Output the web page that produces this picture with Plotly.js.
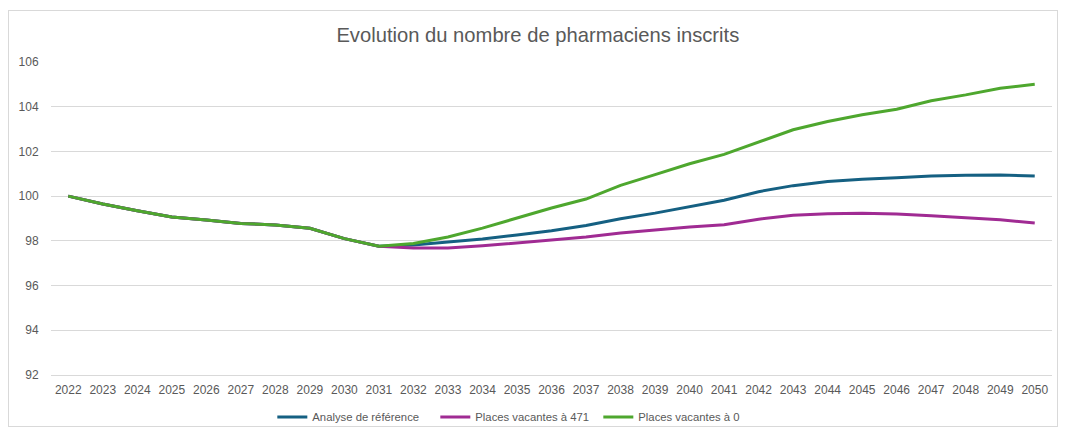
<!DOCTYPE html>
<html>
<head>
<meta charset="utf-8">
<script src="https://cdn.plot.ly/plotly-3.0.1.min.js"></script>
<style>
  html, body { margin: 0; padding: 0; background: #fff; }
  #wrap { position: relative; width: 1065px; height: 433px; }
  #chart { position: absolute; left: 0; top: 0; width: 1065px; height: 433px; }
  #frame { position: absolute; left: 8px; top: 10px; width: 1048px; height: 415px; border: 1px solid #d9d9d9; pointer-events: none; }
</style>
</head>
<body>
<div id="wrap"><div id="chart"></div><div id="frame"></div></div>
<script>
const years = ["2022","2023","2024","2025","2026","2027","2028","2029","2030","2031","2032","2033","2034","2035","2036","2037","2038","2039","2040","2041","2042","2043","2044","2045","2046","2047","2048","2049","2050"];

const reference = [100, 99.65, 99.35, 99.07, 98.93, 98.78, 98.71, 98.56, 98.1, 97.76,
  97.82, 97.95, 98.08, 98.26, 98.45, 98.69, 98.99, 99.24, 99.54, 99.82,
  100.2, 100.47, 100.66, 100.76, 100.82, 100.9, 100.93, 100.95, 100.9];

const vacant471 = [100, 99.65, 99.35, 99.07, 98.93, 98.78, 98.71, 98.56, 98.1, 97.76,
  97.68, 97.68, 97.78, 97.9, 98.05, 98.17, 98.35, 98.5, 98.62, 98.72,
  98.97, 99.14, 99.21, 99.24, 99.2, 99.12, 99.02, 98.94, 98.8];

const vacant0 = [100, 99.65, 99.35, 99.07, 98.93, 98.78, 98.71, 98.56, 98.1, 97.76,
  97.88, 98.17, 98.57, 99.02, 99.47, 99.87, 100.48, 100.96, 101.45, 101.87,
  102.43, 102.97, 103.34, 103.64, 103.89, 104.27, 104.53, 104.83, 105.0];

const seriesNames = ["Analyse de référence", "Places vacantes à 471", "Places vacantes à 0"];
const yTicks = [92, 94, 96, 98, 100, 102, 104, 106];

const colors = ["#156082", "#A02B93", "#4EA72E"];
const dataSets = [reference, vacant471, vacant0];

const traces = dataSets.map((vals, i) => ({
  type: "scatter",
  mode: "lines",
  x: years,
  y: vals,
  name: seriesNames[i],
  line: { color: colors[i], width: 3 },
  hoverinfo: "x+y+name"
}));

const font = { family: "Liberation Sans, Arial, sans-serif", size: 12, color: "#595959" };

const layout = {
  width: 1065,
  height: 433,
  margin: { l: 51, r: 13, t: 62, b: 58, pad: 0, autoexpand: false },
  paper_bgcolor: "rgba(0,0,0,0)",
  plot_bgcolor: "#ffffff",
  font: font,
  showlegend: true,
  title: {
    text: "Evolution du nombre de pharmaciens inscrits",
    font: { family: "Liberation Sans, Arial, sans-serif", size: 20.2, color: "#595959" },
    xref: "container", yref: "container",
    x: 0.505, xanchor: "center",
    y: 0.92, yanchor: "middle"
  },
  xaxis: {
    type: "category",
    categoryorder: "array",
    categoryarray: years,
    range: [-0.5, 28.5],
    showgrid: false,
    showline: true,
    linecolor: "#d9d9d9",
    linewidth: 1,
    ticks: "outside",
    ticklen: 4,
    tickcolor: "rgba(0,0,0,0)",
    tickfont: font,
    zeroline: false,
    fixedrange: true
  },
  yaxis: {
    range: [92, 106],
    tickvals: yTicks,
    ticktext: yTicks.map(String),
    showgrid: true,
    gridcolor: "#d9d9d9",
    gridwidth: 1,
    showline: false,
    zeroline: false,
    ticks: "outside",
    ticklen: 9,
    tickcolor: "rgba(0,0,0,0)",
    tickfont: font,
    fixedrange: true
  },
  legend: {
    orientation: "h",
    xref: "container", yref: "container",
    x: 0.2557, xanchor: "left",
    y: 0.037, yanchor: "middle",
    font: { family: "Liberation Sans, Arial, sans-serif", size: 11.3, color: "#595959" },
    itemwidth: 30,
    entrywidth: 118,
    tracegroupgap: 0,
    bgcolor: "rgba(0,0,0,0)"
  }
};

Plotly.newPlot("chart", traces, layout, { displayModeBar: false, staticPlot: true });
</script>
</body>
</html>
